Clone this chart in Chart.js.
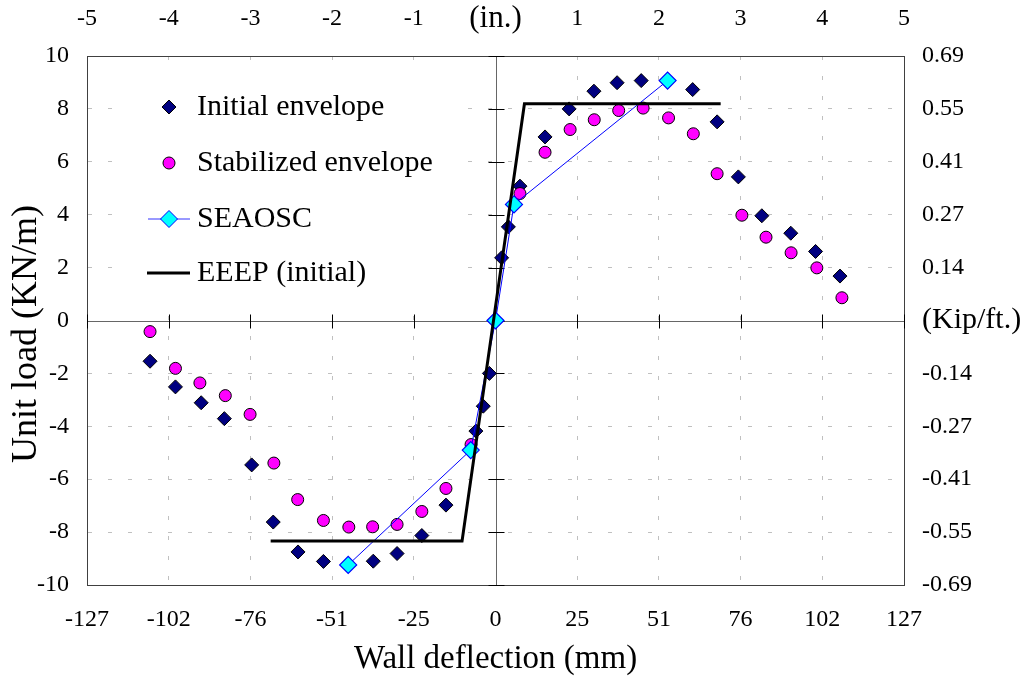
<!DOCTYPE html>
<html>
<head>
<meta charset="utf-8">
<script src="https://cdn.jsdelivr.net/npm/chart.js@4/dist/chart.umd.min.js"></script>
<style>
  body { margin: 0; background: #fff; }
  #wrap { width: 1024px; height: 686px; }
</style>
</head>
<body>
<div id="wrap"><canvas id="chart"></canvas></div>
<script>
// axes: mm below, inches on top, kN/m left, kip/ft right
const mmTicks = [-127, -101.6, -76.2, -50.8, -25.4, 0, 25.4, 50.8, 76.2, 101.6, 127];
const mmLabels = ["-127", "-102", "-76", "-51", "-25", "0", "25", "51", "76", "102", "127"];
const inchTicks = [-5, -4, -3, -2, -1, 0, 1, 2, 3, 4, 5];
const inchLabels = ["-5", "-4", "-3", "-2", "-1", "(in.)", "1", "2", "3", "4", "5"];
const loadTicks = [-10, -8, -6, -4, -2, 0, 2, 4, 6, 8, 10];
const loadLabels = ["-10", "-8", "-6", "-4", "-2", "0", "2", "4", "6", "8", "10"];
const kipLabels = ["-0.69", "-0.55", "-0.41", "-0.27", "-0.14", "(Kip/ft.)", "0.14", "0.27", "0.41", "0.55", "0.69"];

// Initial envelope (mm, KN/m)
const initialX = [-107.4, -99.5, -91.5, -84.3, -75.8, -69.1, -61.4, -53.5, -45.8, -38.0, -30.6, -22.9, -15.4, -6.1, -3.8, -1.9,
                  1.9, 4.0, 7.6, 15.4, 22.9, 30.6, 37.8, 45.3, 53.5, 61.3, 68.9, 75.5, 82.8, 91.8, 99.5, 107.1];
const initialY = [-1.54, -2.51, -3.11, -3.71, -5.46, -7.62, -8.75, -9.11, -9.22, -9.10, -8.81, -8.13, -6.98, -4.18, -3.24, -2.00,
                  2.37, 3.54, 5.08, 6.94, 8.00, 8.67, 8.99, 9.07, 9.05, 8.73, 7.51, 5.43, 3.96, 3.30, 2.61, 1.68];

// Stabilized envelope
const stabX = [-107.4, -99.5, -91.9, -84.0, -76.3, -68.9, -61.5, -53.5, -45.6, -38.2, -30.6, -22.9, -15.4, -7.6,
               7.6, 15.4, 23.2, 30.7, 38.3, 45.9, 53.8, 61.5, 68.9, 76.6, 84.1, 91.9, 99.9, 107.7];
const stabY = [-0.42, -1.81, -2.36, -2.84, -3.55, -5.39, -6.77, -7.56, -7.81, -7.80, -7.71, -7.22, -6.35, -4.69,
               4.80, 6.36, 7.22, 7.59, 7.94, 8.03, 7.66, 7.06, 5.55, 3.98, 3.15, 2.56, 1.99, 0.86];

// SEAOSC
const seaoscX = [-45.8, -7.7, 0, 5.75, 53.5];
const seaoscY = [-9.24, -4.90, 0, 4.39, 9.07];

// EEEP (initial)
const eeepX = [-69.9, -10.4, 9.0, 70.0];
const eeepY = [-8.34, -8.34, 8.19, 8.19];

const serif = "'Liberation Serif', 'Times New Roman', serif";
const pts = (xs, ys) => xs.map((v, i) => ({ x: v, y: ys[i] }));

// draw a legend marker
function marker(ctx, kind, x, y, r, fill, stroke) {
  ctx.beginPath();
  if (kind === 'circle') {
    ctx.arc(x, y, r, 0, Math.PI * 2);
  } else {
    ctx.moveTo(x - r, y); ctx.lineTo(x, y - r); ctx.lineTo(x + r, y); ctx.lineTo(x, y + r); ctx.closePath();
  }
  ctx.fillStyle = fill; ctx.fill();
  ctx.lineWidth = 1; ctx.strokeStyle = stroke; ctx.stroke();
}

const axesAndLegend = {
  id: 'axesAndLegend',
  beforeDatasetsDraw(chart) {
    const { ctx, chartArea: ca, scales: { x, y } } = chart;
    const x0 = Math.round(x.getPixelForValue(0)) + 0.5;
    const y0 = Math.round(y.getPixelForValue(0)) + 0.5;
    ctx.save();
    // white legend box over the grid
    ctx.fillStyle = '#fff';
    ctx.fillRect(ca.left + 26, ca.top + 7, 348, 240);

    // zero axes
    ctx.strokeStyle = '#666';
    ctx.lineWidth = 1;
    ctx.beginPath();
    ctx.moveTo(ca.left, y0); ctx.lineTo(ca.right, y0);
    ctx.moveTo(x0, ca.top); ctx.lineTo(x0, ca.bottom);
    ctx.stroke();
    // cross tick marks
    ctx.strokeStyle = '#000';
    ctx.beginPath();
    mmTicks.forEach(v => {
      const px = Math.round(x.getPixelForValue(v)) + 0.5;
      ctx.moveTo(px, y0 - 7); ctx.lineTo(px, y0 + 7);
    });
    loadTicks.forEach(v => {
      const py = Math.round(y.getPixelForValue(v)) + 0.5;
      ctx.moveTo(x0 - 8, py); ctx.lineTo(x0 + 8, py);
    });
    ctx.stroke();

    // legend
    const lx = ca.left + 82, tx = ca.left + 110;
    const rows = [ca.top + 51, ca.top + 107, ca.top + 163, ca.top + 217];
    ctx.font = "30px " + serif;
    ctx.textBaseline = 'middle';
    ctx.fillStyle = '#000';
    marker(ctx, 'diamond', lx, rows[0], 7, '#000080', '#000');
    marker(ctx, 'circle', lx, rows[1], 6, '#ff00ff', '#000');
    ctx.strokeStyle = '#3333ff'; ctx.lineWidth = 1;
    ctx.beginPath(); ctx.moveTo(lx - 21, rows[2]); ctx.lineTo(lx + 21, rows[2]); ctx.stroke();
    marker(ctx, 'diamond', lx, rows[2], 8.5, '#00ffff', '#0000ff');
    ctx.strokeStyle = '#000'; ctx.lineWidth = 3;
    ctx.beginPath(); ctx.moveTo(lx - 22, rows[3]); ctx.lineTo(lx + 21, rows[3]); ctx.stroke();
    ctx.fillStyle = '#000';
    ctx.fillText('Initial envelope', tx, rows[0]);
    ctx.fillText('Stabilized envelope', tx, rows[1]);
    ctx.fillText('SEAOSC', tx, rows[2]);
    ctx.fillText('EEEP (initial)', tx, rows[3]);
    ctx.restore();
  }
};

const gridColor = ctx => {
  const v = ctx.tick ? ctx.tick.value : null;
  const ends = [mmTicks[0], mmTicks[mmTicks.length - 1], loadTicks[0], loadTicks[loadTicks.length - 1], 0];
  return ends.includes(v) ? 'rgba(0,0,0,0)' : '#c0c0c0';
};

new Chart(document.getElementById('chart'), {
  type: 'scatter',
  data: {
    datasets: [
      {
        label: 'EEEP (initial)', data: pts(eeepX, eeepY), showLine: true,
        borderColor: '#000', borderWidth: 3, pointRadius: 0, order: 1
      },
      {
        label: 'SEAOSC', data: pts(seaoscX, seaoscY), showLine: true,
        borderColor: '#0000ff', borderWidth: 1, pointStyle: 'rectRot', pointRadius: 8.5,
        pointBackgroundColor: '#00ffff', pointBorderColor: '#0000ff', pointBorderWidth: 1.2, order: 2
      },
      {
        label: 'Stabilized envelope', data: pts(stabX, stabY), showLine: false,
        pointStyle: 'circle', pointRadius: 6,
        pointBackgroundColor: '#ff00ff', pointBorderColor: '#000', pointBorderWidth: 1, order: 3
      },
      {
        label: 'Initial envelope', data: pts(initialX, initialY), showLine: false,
        pointStyle: 'rectRot', pointRadius: 7,
        pointBackgroundColor: '#000080', pointBorderColor: '#000', pointBorderWidth: 1, order: 4
      }
    ]
  },
  options: {
    responsive: true,
    maintainAspectRatio: false,
    animation: false,
    layout: { padding: 0 },
    plugins: { legend: { display: false }, tooltip: { enabled: false } },
    scales: {
      x: {
        type: 'linear', position: 'bottom', min: -127, max: 127,
        afterBuildTicks: s => { s.ticks = mmTicks.map(v => ({ value: v })); },
        afterFit: s => { s.height = 101; },
        ticks: {
          autoSkip: false, maxRotation: 0, padding: 20, color: '#000',
          font: { family: serif, size: 24 },
          callback: (v, i) => mmLabels[i]
        },
        grid: { color: gridColor, lineWidth: 1, drawTicks: false },
        border: { display: true, color: '#404040', width: 1, dash: [4, 16] },
        title: {
          display: true, text: 'Wall deflection (mm)', color: '#000',
          font: { family: serif, size: 33 }, padding: { top: 0, bottom: 7 }
        }
      },
      x2: {
        type: 'linear', position: 'top', min: -5, max: 5,
        afterBuildTicks: s => { s.ticks = inchTicks.map(v => ({ value: v })); },
        afterFit: s => { s.height = 56; },
        ticks: {
          autoSkip: false, maxRotation: 0, padding: 23, color: '#000',
          font: c => c.tick && c.tick.value === 0
            ? { family: serif, size: 31, lineHeight: 0.93 }
            : { family: serif, size: 24 },
          callback: (v, i) => inchLabels[i]
        },
        grid: { drawOnChartArea: false, drawTicks: false },
        border: { display: true, color: '#404040', width: 1 }
      },
      y: {
        type: 'linear', position: 'left', min: -10, max: 10,
        afterBuildTicks: s => { s.ticks = loadTicks.map(v => ({ value: v })); },
        afterFit: s => { s.width = 87; },
        ticks: {
          autoSkip: false, padding: 18, color: '#000',
          font: { family: serif, size: 24 },
          callback: (v, i) => loadLabels[i]
        },
        grid: { color: gridColor, lineWidth: 1, drawTicks: false },
        border: { display: true, color: '#404040', width: 1, dash: [4, 16] },
        title: {
          display: true, text: 'Unit load (KN/m)   ', color: '#000',
          font: { family: serif, size: 36 }, padding: { top: 5, bottom: 0 }
        }
      },
      y2: {
        type: 'linear', position: 'right', min: -10, max: 10,
        afterBuildTicks: s => { s.ticks = loadTicks.map(v => ({ value: v })); },
        afterFit: s => { s.width = 120; },
        ticks: {
          autoSkip: false, padding: 18, color: '#000',
          font: c => c.tick && c.tick.value === 0
            ? { family: serif, size: 30 }
            : { family: serif, size: 24 },
          callback: (v, i) => kipLabels[i]
        },
        grid: { drawOnChartArea: false, drawTicks: false },
        border: { display: true, color: '#404040', width: 1 }
      }
    }
  },
  plugins: [axesAndLegend]
});
</script>
</body>
</html>
